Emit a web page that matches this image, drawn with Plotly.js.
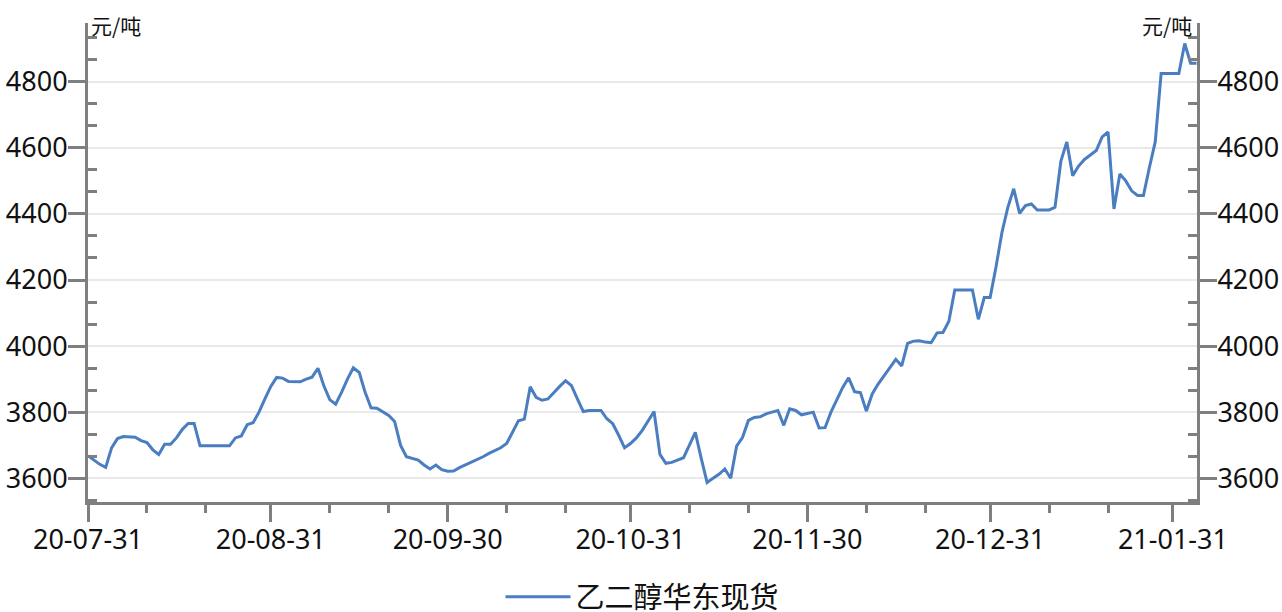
<!DOCTYPE html>
<html><head><meta charset="utf-8">
<script src="https://cdn.plot.ly/plotly-3.0.1.min.js"></script>
<style>html,body{margin:0;padding:0;background:#fff;} #chart{width:1282px;height:612px;}</style>
</head><body><div id="chart"></div>
<script>
const seriesName = '乙二醇华东现货';
const unitLabel = '元/吨';
const dates = [
'2020-07-31','2020-08-01','2020-08-02','2020-08-03','2020-08-04','2020-08-05','2020-08-06','2020-08-08','2020-08-09','2020-08-10',
'2020-08-11','2020-08-12','2020-08-13','2020-08-14','2020-08-15','2020-08-16','2020-08-17','2020-08-18','2020-08-19','2020-08-24',
'2020-08-25','2020-08-26','2020-08-27','2020-08-28','2020-08-29','2020-08-30','2020-08-31','2020-09-01','2020-09-02','2020-09-03',
'2020-09-05','2020-09-06','2020-09-07','2020-09-08','2020-09-09','2020-09-10','2020-09-11','2020-09-12','2020-09-13','2020-09-14',
'2020-09-15','2020-09-16','2020-09-17','2020-09-18','2020-09-19','2020-09-20','2020-09-21','2020-09-22','2020-09-23','2020-09-24',
'2020-09-25','2020-09-26','2020-09-27','2020-09-28','2020-09-29','2020-09-30','2020-10-01','2020-10-02','2020-10-03','2020-10-04',
'2020-10-05','2020-10-06','2020-10-07','2020-10-08','2020-10-09','2020-10-10','2020-10-11','2020-10-12','2020-10-13','2020-10-14',
'2020-10-15','2020-10-16','2020-10-17','2020-10-18','2020-10-19','2020-10-20','2020-10-21','2020-10-22','2020-10-23','2020-10-24',
'2020-10-26','2020-10-27','2020-10-28','2020-10-29','2020-10-30','2020-10-31','2020-11-01','2020-11-02','2020-11-03','2020-11-04',
'2020-11-05','2020-11-06','2020-11-07','2020-11-08','2020-11-09','2020-11-10','2020-11-11','2020-11-12','2020-11-13','2020-11-14',
'2020-11-15','2020-11-16','2020-11-17','2020-11-18','2020-11-19','2020-11-20','2020-11-21','2020-11-22','2020-11-23','2020-11-24',
'2020-11-25','2020-11-26','2020-11-27','2020-11-28','2020-11-29','2020-11-30','2020-12-01','2020-12-02','2020-12-03','2020-12-04',
'2020-12-05','2020-12-06','2020-12-07','2020-12-08','2020-12-09','2020-12-10','2020-12-11','2020-12-12','2020-12-13','2020-12-14',
'2020-12-15','2020-12-16','2020-12-17','2020-12-18','2020-12-19','2020-12-20','2020-12-21','2020-12-22','2020-12-23','2020-12-24',
'2020-12-25','2020-12-28','2020-12-29','2020-12-30','2020-12-31','2021-01-01','2021-01-02','2021-01-03','2021-01-04','2021-01-05',
'2021-01-06','2021-01-07','2021-01-08','2021-01-10','2021-01-11','2021-01-12','2021-01-13','2021-01-14','2021-01-15','2021-01-16',
'2021-01-17','2021-01-18','2021-01-19','2021-01-20','2021-01-21','2021-01-22','2021-01-23','2021-01-24','2021-01-25','2021-01-26',
'2021-01-27','2021-01-28','2021-01-29','2021-02-01','2021-02-02','2021-02-03','2021-02-04'
];
const values = [
3668,3655,3642,3633,3692,3720,3726,3724,3714,3708,
3686,3672,3703,3703,3722,3748,3766,3766,3698,3698,
3722,3728,3762,3768,3800,3840,3878,3905,3903,3893,
3892,3900,3906,3933,3880,3838,3824,3860,3900,3934,
3920,3860,3813,3812,3800,3790,3772,3700,3665,3660,
3655,3640,3628,3640,3626,3621,3622,3632,3640,3650,
3657,3665,3675,3683,3692,3705,3740,3774,3779,3877,
3845,3836,3840,3860,3878,3895,3880,3840,3802,3805,
3805,3780,3765,3730,3692,3705,3722,3745,3775,3802,
3672,3645,3648,3655,3662,3700,3739,3660,3587,3600,
3612,3628,3600,3697,3723,3775,3784,3786,3795,3800,
3805,3760,3810,3805,3792,3796,3800,3752,3753,3800,
3838,3875,3904,3862,3859,3803,3855,3885,3910,3935,
3960,3940,4008,4015,4016,4012,4010,4040,4041,4075,
4170,4170,4081,4147,4147,4240,4344,4420,4476,4402,
4425,4430,4412,4412,4420,4560,4618,4516,4545,4565,
4578,4592,4633,4648,4415,4521,4500,4470,4456,4456,
4540,4618,4825,4825,4916,4856,4856
];
const xTickVals = ['2020-07-31','2020-08-31','2020-09-30','2020-10-31','2020-11-30','2020-12-31','2021-01-31'];
const xTickText = ['20-07-31','20-08-31','20-09-30','20-10-31','20-11-30','20-12-31','21-01-31'];
const xMinorVals = ['2020-08-10','2020-08-20','2020-09-10','2020-09-20','2020-10-10','2020-10-20','2020-11-10','2020-11-20','2020-12-10','2020-12-20','2021-01-10','2021-01-20'];
const yTickVals = [3600,3800,4000,4200,4400,4600,4800];
const yRange = [3528, 4978];
const xRange = ['2020-07-31', '2021-02-04 02:00'];

// minor y ticks: thirds between majors
const yMinor = [];
for (let k = -3; k <= 24; k++) {
  if (k % 3 === 0) continue;
  const v = 3600 + k * 200 / 3;
  if (v > yRange[0] && v < yRange[1]) yMinor.push(v);
}

const axisGray = '#7f7f7f';
const tickFont = {family: 'Noto Sans, Noto Sans CJK SC, sans-serif', size: 27, color: '#111'};

const yCommon = {
  range: yRange, tickmode: 'array', tickvals: yTickVals,
  showline: true, linecolor: axisGray, linewidth: 3,
  ticks: 'outside', ticklen: 17, tickwidth: 3, tickcolor: axisGray,
  tickfont: tickFont, zeroline: false, ticklabelstandoff: -5,
  minor: {tickmode: 'array', tickvals: yMinor, ticks: 'inside', ticklen: 9, tickwidth: 3, tickcolor: axisGray, showgrid: false}
};

const trace = {
  x: dates, y: values, type: 'scatter', mode: 'lines', name: seriesName,
  line: {color: '#4a7ec0', width: 3}, xaxis: 'x', yaxis: 'y'
};
// same series bound to the right-hand axis so that axis is drawn (invisible copy)
const traceRight = {
  x: dates, y: values, type: 'scatter', mode: 'lines', name: seriesName,
  line: {color: 'rgba(0,0,0,0)', width: 0}, xaxis: 'x', yaxis: 'y2', showlegend: false, hoverinfo: 'skip'
};

const layout = {
  width: 1282, height: 612,
  margin: {l: 88, r: 85, t: 23, b: 110, autoexpand: false},
  paper_bgcolor: '#fff', plot_bgcolor: '#fff',
  showlegend: true,
  legend: {orientation: 'h', x: 0.5, xanchor: 'center', y: -0.198, yanchor: 'middle',
    font: {family: 'Noto Sans CJK SC, sans-serif', size: 29, color: '#111'}, itemwidth: 65},
  xaxis: {
    type: 'date', range: xRange, tickmode: 'array', tickvals: xTickVals, ticktext: xTickText,
    showline: true, linecolor: axisGray, linewidth: 3,
    ticks: 'outside', ticklen: 17, tickwidth: 3, tickcolor: axisGray,
    tickfont: tickFont, showgrid: false, zeroline: false, ticklabelstandoff: -5,
    minor: {tickmode: 'array', tickvals: xMinorVals, ticks: 'outside', ticklen: 8, tickwidth: 3, tickcolor: axisGray, showgrid: false}
  },
  yaxis: Object.assign({}, yCommon, {side: 'left', showgrid: true, gridcolor: '#e9e9e9', gridwidth: 1.5}),
  yaxis2: Object.assign({}, yCommon, {side: 'right', overlaying: 'y', showgrid: false, anchor: 'x'}),
  annotations: [
    {text: unitLabel, xref: 'paper', yref: 'paper', x: 0, y: 1, xanchor: 'left', yanchor: 'middle', xshift: 1, yshift: -2, showarrow: false,
      font: {family: 'Noto Sans CJK SC, sans-serif', size: 21, color: '#111'}},
    {text: unitLabel, xref: 'paper', yref: 'paper', x: 1, y: 1, xanchor: 'right', yanchor: 'middle', xshift: -3, yshift: -2, showarrow: false,
      font: {family: 'Noto Sans CJK SC, sans-serif', size: 21, color: '#111'}}
  ]
};

Plotly.newPlot('chart', [trace, traceRight], layout, {displayModeBar: false, staticPlot: true});
</script>
</body></html>
